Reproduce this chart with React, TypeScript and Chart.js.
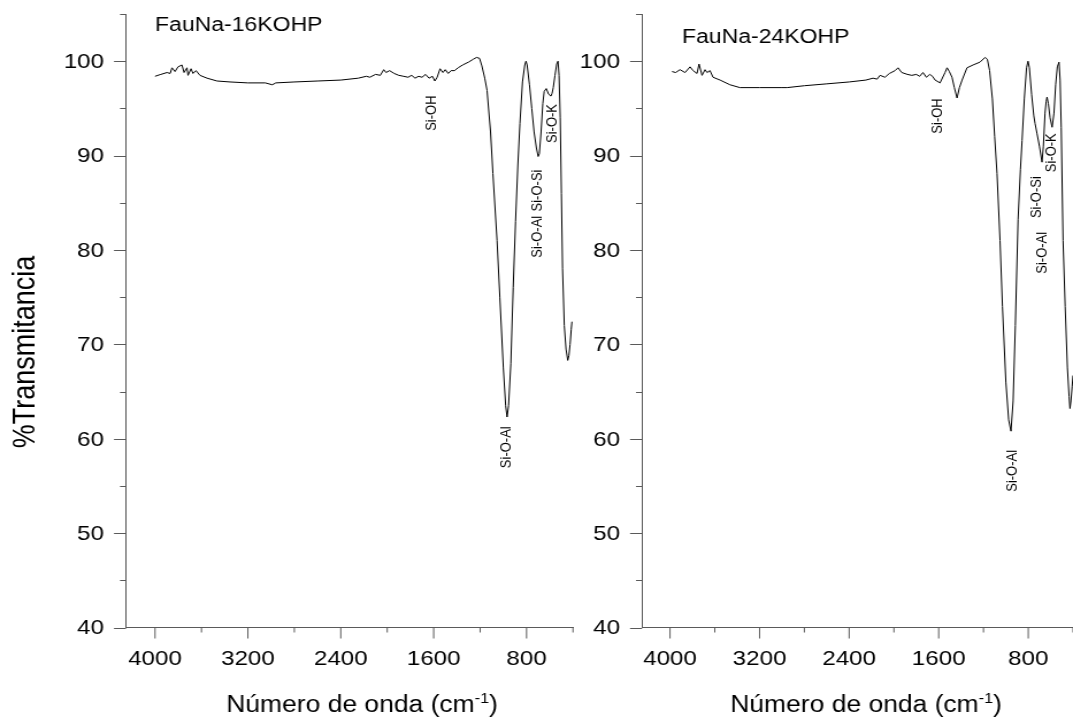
import React, { useEffect, useRef } from 'react';
import { Chart, registerables } from 'chart.js';

Chart.register(...registerables);

// ---------------- data ----------------
const X_MAJOR = [4000, 3200, 2400, 1600, 800];
const X_MINOR = [3600, 2800, 2000, 1200, 400];
const Y_MAJOR = [40, 50, 60, 70, 80, 90, 100];
const Y_MINOR = [45, 55, 65, 75, 85, 95, 105];

const WN_16 = [4000, 3950, 3897, 3870, 3854, 3828, 3802, 3768, 3750, 3725, 3716, 3690, 3673, 3647, 3613, 3552, 3466, 3354, 3200, 3050, 2990, 2960, 2800, 2600, 2400, 2250, 2180, 2150, 2100, 2060, 2030, 2010, 1980, 1940, 1900, 1860, 1820, 1790, 1760, 1730, 1700, 1670, 1640, 1610, 1590, 1570, 1545, 1520, 1500, 1475, 1450, 1420, 1390, 1350, 1300, 1260, 1230, 1205, 1185, 1160, 1140, 1110, 1090, 1054, 1030, 1000, 980, 968, 955, 935, 915, 895, 875, 857, 835, 815, 805, 795, 775, 755, 735, 715, 700, 690, 675, 660, 648, 630, 610, 590, 580, 570, 555, 540, 529, 520, 510, 500, 490, 475, 460, 445, 435, 425, 415, 409];
const T_16 = [98.4, 98.6, 98.8, 98.7, 99.3, 98.9, 99.4, 99.6, 98.8, 99.3, 98.5, 99.2, 98.7, 99.0, 98.5, 98.2, 97.9, 97.8, 97.7, 97.7, 97.5, 97.7, 97.8, 97.9, 98.0, 98.2, 98.4, 98.3, 98.6, 98.5, 99.1, 98.8, 99.0, 98.7, 98.5, 98.4, 98.3, 98.5, 98.2, 98.4, 98.3, 98.6, 98.2, 98.4, 97.9, 98.3, 99.2, 98.8, 99.1, 98.7, 99.0, 99.0, 99.3, 99.6, 99.9, 100.2, 100.4, 100.3, 99.5, 98.2, 96.9, 92.5, 88.1, 81.0, 75.0, 67.5, 63.5, 62.3, 63.5, 68.0, 76.0, 83.0, 89.0, 93.4, 97.8, 99.6, 100.0, 99.6, 97.5, 95.0, 92.5, 90.8, 89.9, 90.2, 92.5, 95.5, 96.8, 97.1, 96.5, 96.3, 96.6, 97.2, 98.5, 99.7, 100.0, 98.5, 94.0, 86.0, 78.0, 72.0, 69.5, 68.3, 68.8, 70.0, 71.6, 72.4];

const WN_24 = [3982, 3950, 3911, 3866, 3821, 3794, 3759, 3741, 3714, 3687, 3669, 3643, 3616, 3553, 3464, 3375, 3200, 3000, 2955, 2800, 2600, 2400, 2250, 2187, 2150, 2124, 2080, 2040, 1990, 1963, 1930, 1880, 1840, 1800, 1770, 1740, 1710, 1680, 1655, 1632, 1588, 1543, 1525, 1505, 1481, 1460, 1436, 1415, 1391, 1347, 1293, 1231, 1186, 1165, 1145, 1120, 1100, 1079, 1052, 1030, 1000, 975, 954, 935, 915, 891, 870, 855, 835, 815, 802, 790, 770, 750, 739, 721, 700, 677, 665, 650, 640, 632, 620, 605, 587, 570, 555, 540, 525, 515, 505, 489, 470, 450, 435, 427, 418, 408, 400];
const T_24 = [98.9, 98.8, 99.1, 98.8, 99.4, 99.0, 98.7, 99.7, 98.5, 99.1, 98.8, 99.0, 98.3, 98.0, 97.5, 97.2, 97.2, 97.2, 97.2, 97.4, 97.6, 97.8, 98.0, 98.2, 98.1, 98.5, 98.3, 98.7, 99.0, 99.3, 98.8, 98.6, 98.5, 98.6, 98.4, 98.8, 98.3, 98.6, 98.4, 98.0, 97.7, 98.8, 99.3, 98.9, 98.3, 97.2, 96.1, 97.2, 98.0, 99.3, 99.6, 99.9, 100.4, 100.2, 99.0, 96.0, 92.0, 88.1, 81.0, 74.0, 66.0, 62.0, 60.8, 64.0, 72.0, 83.2, 88.5, 91.6, 96.0, 99.3, 100.0, 99.3, 96.5, 94.2, 93.4, 92.3, 91.0, 89.3, 91.0, 94.5, 95.7, 96.2, 95.5, 94.0, 93.0, 94.5, 97.5, 99.4, 99.9, 98.0, 93.0, 81.0, 74.0, 67.5, 64.5, 63.2, 64.0, 65.5, 66.7];

const PEAK_TEXT_16 = ['Si-OH', 'Si-O-Al', 'Si-O-Al', 'Si-O-Si', 'Si-O-K'];
const PEAK_WN_16 = [1614, 968, 701, 710, 572];
const PEAK_T_16 = [94.5, 59.1, 81.4, 86.3, 93.4];

const PEAK_TEXT_24 = ['Si-OH', 'Si-O-Al', 'Si-O-Al', 'Si-O-Si', 'Si-O-K'];
const PEAK_WN_24 = [1606, 945, 677, 721, 587];
const PEAK_T_24 = [94.2, 56.6, 79.7, 85.6, 90.3];

const TITLE_16 = 'FauNa-16KOHP';
const TITLE_24 = 'FauNa-24KOHP';
const Y_TITLE = '%Transmitancia';
const X_TITLE = 'Número de onda (cm';
const X_TITLE_SUP = '-1';
const X_TITLE_END = ')';

// ---------------- layout ----------------
const S = 1.15; // horizontal stretch of the original picture
const W_CSS = 1073;
const H = 721;
const W_INT = W_CSS / S;
const FONT = '"Liberation Sans", Arial, Helvetica, sans-serif';
const AX = '#5a5a5a';
const TOP = 14;
const BOTTOM = 627.5;

type Panel = {
  wn: number[];
  t: number[];
  left: number; // css px
  right: number; // css px
  title: string;
  titleWn: number;
  titleT: number;
  peakText: string[];
  peakWn: number[];
  peakT: number[];
  showYTitle: boolean;
  xTitleCenter: number; // css px
};

const PANELS: Panel[] = [
  {
    wn: WN_16, t: T_16, left: 126, right: 573,
    title: TITLE_16, titleWn: 4000, titleT: 103.8,
    peakText: PEAK_TEXT_16, peakWn: PEAK_WN_16, peakT: PEAK_T_16,
    showYTitle: true, xTitleCenter: 362,
  },
  {
    wn: WN_24, t: T_24, left: 642, right: 1073,
    title: TITLE_24, titleWn: 3893, titleT: 102.5,
    peakText: PEAK_TEXT_24, peakWn: PEAK_WN_24, peakT: PEAK_T_24,
    showYTitle: false, xTitleCenter: 866,
  },
];

function makeChart(canvas: HTMLCanvasElement, p: Panel) {
  const chartLeft = p.left / S;
  const chartRight = p.right / S;
  const yWidth = 60;
  const padL = chartLeft - yWidth;
  const padR = W_INT - chartRight;

  const deco = {
    id: 'deco',
    afterDraw(chart: any) {
      const ctx = chart.ctx as CanvasRenderingContext2D;
      const xs = chart.scales.x;
      const ys = chart.scales.y;
      const ca = chart.chartArea;
      ctx.save();
      ctx.strokeStyle = AX;
      ctx.lineWidth = 1;
      // y ticks
      const drawY = (vals: number[], len: number) => {
        vals.forEach((v) => {
          const y = Math.round(ys.getPixelForValue(v)) + 0.5;
          ctx.beginPath();
          ctx.moveTo(ca.left, y);
          ctx.lineTo(ca.left - len / S, y);
          ctx.stroke();
        });
      };
      drawY(Y_MAJOR, 12);
      drawY(Y_MINOR, 6);
      // x ticks
      const drawX = (vals: number[], len: number) => {
        vals.forEach((v) => {
          const x = xs.getPixelForValue(v);
          ctx.beginPath();
          ctx.moveTo(x, ca.bottom);
          ctx.lineTo(x, ca.bottom + len);
          ctx.stroke();
        });
      };
      drawX(X_MAJOR, 11);
      drawX(X_MINOR, 5);

      ctx.fillStyle = '#000';
      // tick labels
      ctx.font = `21px ${FONT}`;
      ctx.textAlign = 'right';
      ctx.textBaseline = 'middle';
      Y_MAJOR.forEach((v) => {
        ctx.fillText(String(v), ca.left - 22 / S, ys.getPixelForValue(v) + 1);
      });
      ctx.textAlign = 'center';
      X_MAJOR.forEach((v) => {
        ctx.fillText(String(v), xs.getPixelForValue(v), 659);
      });

      // panel title
      ctx.font = `20px ${FONT}`;
      ctx.textAlign = 'left';
      ctx.textBaseline = 'middle';
      ctx.fillText(p.title, xs.getPixelForValue(p.titleWn), ys.getPixelForValue(p.titleT));

      // peak labels (rotated)
      ctx.font = `13px ${FONT}`;
      ctx.textAlign = 'center';
      ctx.textBaseline = 'middle';
      p.peakText.forEach((txt, i) => {
        ctx.save();
        ctx.translate(xs.getPixelForValue(p.peakWn[i]), ys.getPixelForValue(p.peakT[i]));
        ctx.rotate(-Math.PI / 2);
        ctx.fillText(txt, 0, 0);
        ctx.restore();
      });

      // x title with superscript
      const mainFont = `23px ${FONT}`;
      const supFont = `14px ${FONT}`;
      ctx.textAlign = 'left';
      ctx.textBaseline = 'alphabetic';
      ctx.font = mainFont;
      const w1 = ctx.measureText(X_TITLE).width;
      const w3 = ctx.measureText(X_TITLE_END).width;
      ctx.font = supFont;
      const w2 = ctx.measureText(X_TITLE_SUP).width;
      const total = w1 + w2 + w3;
      let x0 = p.xTitleCenter / S - total / 2;
      const base = 712;
      ctx.font = mainFont;
      ctx.fillText(X_TITLE, x0, base);
      x0 += w1;
      ctx.font = supFont;
      ctx.fillText(X_TITLE_SUP, x0, base - 9);
      x0 += w2;
      ctx.font = mainFont;
      ctx.fillText(X_TITLE_END, x0, base);

      // y title
      if (p.showYTitle) {
        ctx.save();
        ctx.font = `27px ${FONT}`;
        ctx.textAlign = 'center';
        ctx.textBaseline = 'middle';
        ctx.translate(26 / S, 352);
        ctx.rotate(-Math.PI / 2);
        ctx.fillText(Y_TITLE, 0, 0);
        ctx.restore();
      }
      ctx.restore();
    },
  };

  return new Chart(canvas, {
    type: 'line',
    data: {
      datasets: [
        {
          data: p.wn.map((x, i) => ({ x, y: p.t[i] })),
          borderColor: '#000',
          borderWidth: 1,
          pointRadius: 0,
          tension: 0,
          fill: false,
        },
      ],
    },
    options: {
      responsive: false,
      animation: false,
      devicePixelRatio: 1,
      layout: { padding: { left: padL, right: padR, top: TOP, bottom: 0 } },
      plugins: { legend: { display: false }, tooltip: { enabled: false } },
      scales: {
        x: {
          type: 'linear',
          min: 400,
          max: 4250,
          reverse: true,
          afterBuildTicks: (s: any) => {
            s.ticks = X_MAJOR.map((v) => ({ value: v }));
          },
          afterFit: (s: any) => {
            s.height = H - BOTTOM;
            s.paddingLeft = 0;
            s.paddingRight = 0;
          },
          grid: { display: false },
          border: { display: true, color: AX, width: 1 },
          ticks: { display: false },
        },
        y: {
          type: 'linear',
          min: 40,
          max: 105,
          afterBuildTicks: (s: any) => {
            s.ticks = Y_MAJOR.map((v) => ({ value: v }));
          },
          afterFit: (s: any) => {
            s.width = yWidth;
            s.paddingTop = 0;
            s.paddingBottom = 0;
          },
          grid: { display: false },
          border: { display: true, color: AX, width: 1 },
          ticks: { display: false },
        },
      },
    } as any,
    plugins: [deco],
  });
}

function PanelCanvas({ p }: { p: Panel }) {
  const ref = useRef<HTMLCanvasElement>(null);
  useEffect(() => {
    if (!ref.current) return;
    const chart = makeChart(ref.current, p);
    return () => chart.destroy();
  }, [p]);
  return (
    <canvas
      ref={ref}
      width={Math.round(W_INT)}
      height={H}
      style={{ position: 'absolute', left: 0, top: 0, width: `${Math.round(W_INT) * S}px`, height: `${H}px` }}
    />
  );
}

export default function App() {
  return (
    <div style={{ position: 'fixed', left: 0, top: 0, width: W_CSS, height: H, background: '#fff', overflow: 'hidden' }}>
      {PANELS.map((p, i) => (
        <PanelCanvas key={i} p={p} />
      ))}
    </div>
  );
}
